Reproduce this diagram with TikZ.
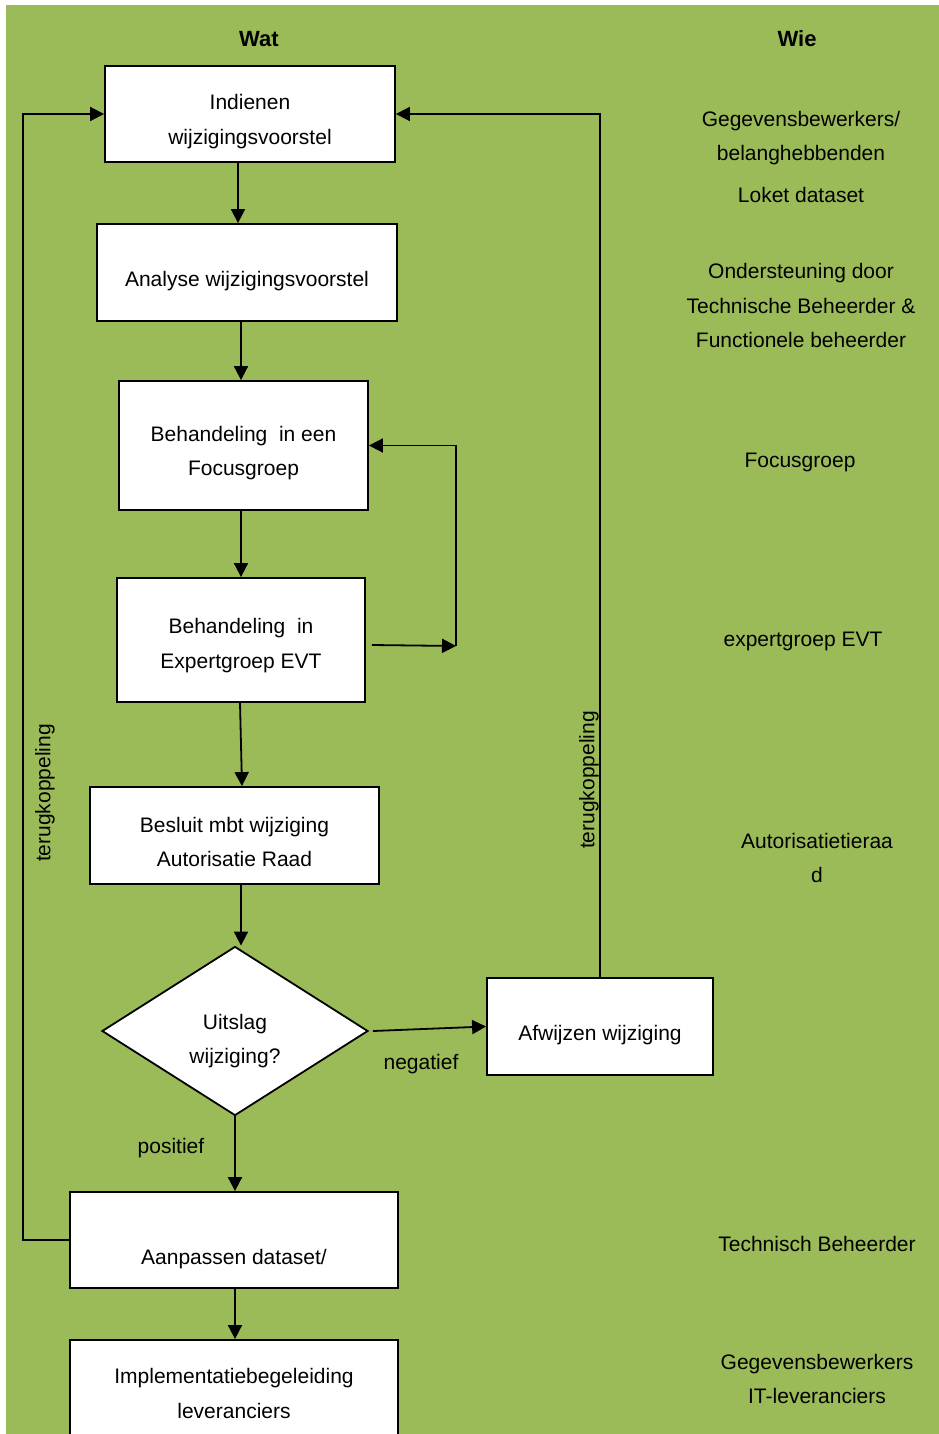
\documentclass[tikz,border=0pt]{standalone}
\usepackage{fontspec}
\setmainfont{Liberation Sans}
\usetikzlibrary{arrows.meta,shapes.geometric}
\definecolor{bggreen}{HTML}{9BBB59}
\begin{document}
\begin{tikzpicture}[x=1pt,y=-1pt,
  box/.style={draw=black,fill=white,line width=1.8pt,inner sep=0pt},
  lbl/.style={inner sep=0pt,align=center,font=\fontsize{21}{34.5}\selectfont},
  head/.style={inner sep=0pt,font=\fontsize{22}{26}\selectfont\bfseries},
  arr/.style={line width=1.8pt,-{Triangle[length=14pt,width=14pt]}}]
\useasboundingbox (0,0) rectangle (939,1434);
\clip (0,0) rectangle (939,1434);
\fill[white] (0,0) rectangle (939,1434);
\fill[bggreen] (6,5) rectangle (939,1434);

% headers
\node[head] (wat) at (259,39) {Wat};
\node[head] (wie) at (797,39) {Wie};

% process boxes
\node[box,minimum width=290,minimum height=96] (ind) at (250,114) {};
\node[box,minimum width=300,minimum height=97] (ana) at (247,272.5) {};
\node[box,minimum width=249,minimum height=129] (foc) at (243.5,445.5) {};
\node[box,minimum width=248,minimum height=124] (exp) at (241,640) {};
\node[box,minimum width=289,minimum height=97] (bes) at (234.5,835.5) {};
\node[box,shape=diamond,aspect=1.574,minimum width=266,minimum height=169] (dia) at (235,1031) {};
\node[box,minimum width=226,minimum height=97] (afw) at (600,1026.5) {};
\node[box,minimum width=328,minimum height=96] (aan) at (234,1240) {};
\node[box,minimum width=328,minimum height=110] (imp) at (234,1395) {};

% box texts
\node[lbl] (indT) at ([yshift=-7.5pt]ind.center) {Indienen\\wijzigingsvoorstel};
\node[lbl] (anaT) at ([yshift=-9pt]ana.center) {Analyse wijzigingsvoorstel};
\node[lbl] (focT) at ([yshift=-7.5pt]foc.center) {Behandeling\ \ in een\\Focusgroep};
\node[lbl] (expT) at ([yshift=-5.5pt]exp.center) {Behandeling\ \ in\\Expertgroep EVT};
\node[lbl] (besT) at ([yshift=-6.5pt]bes.center) {Besluit mbt wijziging\\Autorisatie Raad};
\node[lbl] (diaT) at ([yshift=-10pt]dia.center) {Uitslag\\wijziging?};
\node[lbl] (afwT) at ([yshift=-9pt]afw.center) {Afwijzen wijziging};
\node[lbl] (aanT) at (234,1259) {Aanpassen dataset/};
\node[lbl] (impT) at ([yshift=1.5pt]imp.center) {Implementatiebegeleiding\\leveranciers};

% main flow
\draw[arr] (ind.south -| 238,0) -- (ana.north -| 238,0);
\draw[arr] (ana.south -| 241,0) -- (foc.north -| 241,0);
\draw[arr] (foc.south -| 241,0) -- (exp.north -| 241,0);
\draw[arr] (exp.south -| 240,0) -- (bes.north -| 242,0);
\draw[arr] (bes.south -| 241,0) -- (dia.north -| 241,0);
\draw[arr] (dia.south) -- (aan.north -| dia.south);
\draw[arr] (aan.south -| 235,0) -- (imp.north -| 235,0);
\draw[arr] ([xshift=4]dia.east) -- (afw.west);
\node[lbl] (neg) at (421,1064) {negatief};
\node[lbl] (pos) at (171,1148) {positief};

% loop between expertgroep and focusgroep
\coordinate (lpB) at (456,646);
\draw[arr] ([shift={(6,5)}]exp.east) -- (lpB);
\draw[arr] (lpB) |- (foc.east);

% feedback loops
\coordinate (fbL) at (23,1240);
\draw[arr] (aan.west) -- (fbL) |- (ind.west);
\node[lbl,rotate=90] (tkL) at (45,793) {terugkoppeling};
\draw[arr] (afw.north) |- (ind.east);
\node[lbl,rotate=90] (tkR) at (589,780) {terugkoppeling};

% Wie column
\node[lbl] (w1) at (801,138) {Gegevensbewerkers/\\belanghebbenden};
\node[lbl] (w2) at (801,195) {Loket dataset};
\node[lbl] (w3) at (801,305.5) {Ondersteuning door\\Technische Beheerder \&\\Functionele beheerder};
\node[lbl] (w4) at (800,462) {Focusgroep};
\node[lbl] (w5) at (803,641) {expertgroep EVT};
\node[lbl] (w6) at (817,858) {Autorisatietieraa\\d};
\node[lbl] (w7) at (817,1244) {Technisch Beheerder};
\node[lbl] (w8) at (817,1379) {Gegevensbewerkers\\IT-leveranciers};
\end{tikzpicture}
\end{document}
